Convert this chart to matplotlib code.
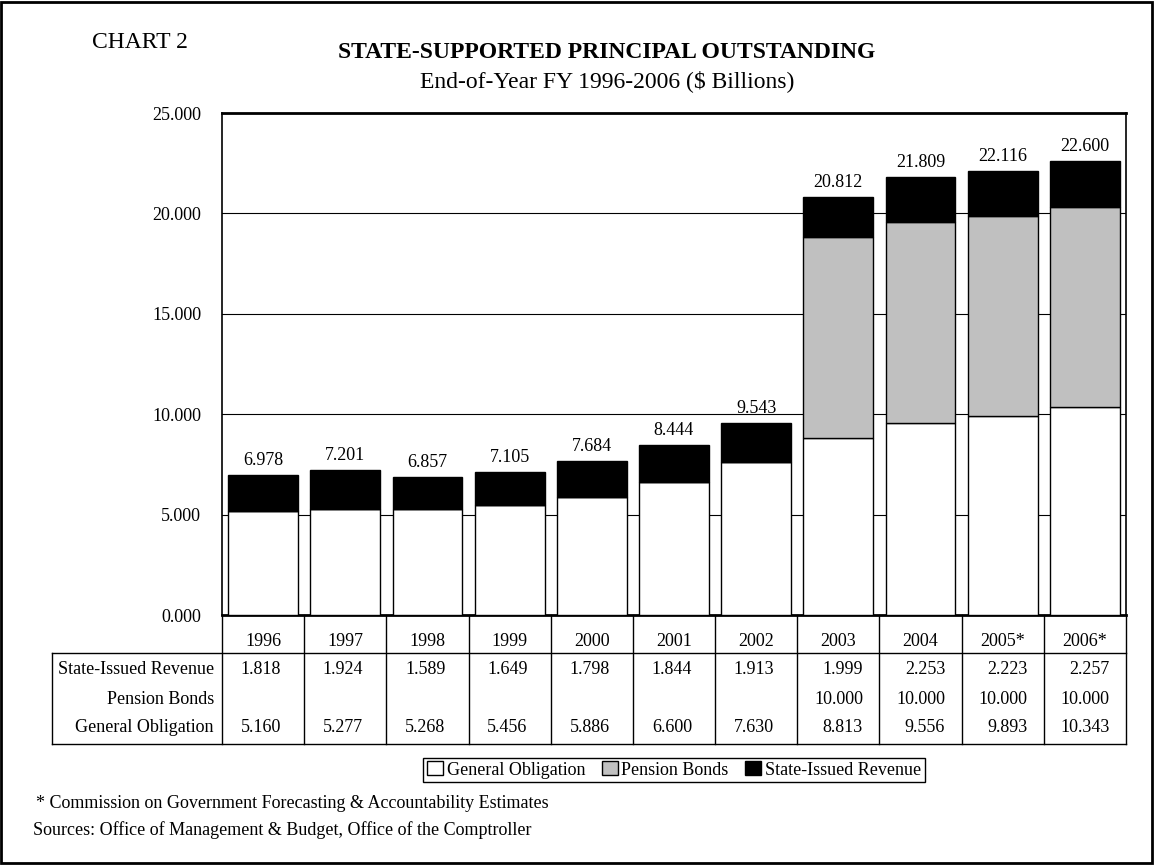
import numpy as np
import matplotlib
matplotlib.use("Agg")
from matplotlib import pyplot as plt
from matplotlib.patches import Rectangle
import matplotlib.transforms as mtransforms

plt.rcParams['font.family'] = ['Liberation Serif', 'DejaVu Serif']

# data ($ billions)
years = ['1996', '1997', '1998', '1999', '2000', '2001', '2002',
         '2003', '2004', '2005*', '2006*']
general_obligation = [5.160, 5.277, 5.268, 5.456, 5.886, 6.600, 7.630,
                      8.813, 9.556, 9.893, 10.343]
pension_bonds = [0, 0, 0, 0, 0, 0, 0, 10.000, 10.000, 10.000, 10.000]
state_issued_revenue = [1.818, 1.924, 1.589, 1.649, 1.798, 1.844, 1.913,
                        1.999, 2.253, 2.223, 2.257]
totals = [6.978, 7.201, 6.857, 7.105, 7.684, 8.444, 9.543,
          20.812, 21.809, 22.116, 22.600]

W, H = 1154, 865
FS = 13
fig = plt.figure(figsize=(W / 100, H / 100), dpi=100)

# outer frame
fig.patches.append(Rectangle((1 / W, 2 / H), 1 - 3 / W, 1 - 4 / H, transform=fig.transFigure,
                             fill=False, edgecolor='black', linewidth=2))

# plot area in pixels: x 222..1126, y 113..615
PL, PR, PT, PB = 222, 1126, 113, 615
ax = fig.add_axes([PL / W, 1 - PB / H, (PR - PL) / W, (PB - PT) / H])
x = np.arange(len(years))
go = np.array(general_obligation)
pb = np.array(pension_bonds)
sr = np.array(state_issued_revenue)

bw = 0.85
ax.bar(x, go, width=bw, color='white', edgecolor='black', linewidth=1,
       label='General Obligation', zorder=3)
ax.bar(x, pb, width=bw, bottom=go, color='#c0c0c0', edgecolor='black', linewidth=1,
       label='Pension Bonds', zorder=3)
ax.bar(x, sr, width=bw, bottom=go + pb, color='black', edgecolor='black', linewidth=1,
       label='State-Issued Revenue', zorder=3)

for xi, t in zip(x, totals):
    ax.text(xi, t + 0.3, f'{t:.3f}', ha='center', va='bottom', fontsize=FS)

ax.set_xlim(-0.5, len(years) - 0.5)
ax.set_ylim(0, 25)
ax.set_yticks(np.arange(0, 26, 5))
ax.set_yticklabels([f'{v:.3f}' for v in np.arange(0, 26, 5)], fontsize=FS)
ax.tick_params(axis='y', length=0, pad=15)
ax.set_xticks([])
for v in [5, 10, 15, 20]:
    ax.axhline(v, color='black', linewidth=0.8, zorder=1)
for s in ax.spines.values():
    s.set_linewidth(1.2)
ax.spines['top'].set_linewidth(2)
ax.spines['bottom'].set_linewidth(2)

# data table under the chart
trans = mtransforms.blended_transform_factory(ax.transData, ax.transAxes)
slot = (PR - PL) / len(years)


def yf(py):
    return -(py - PB) / (PB - PT)


tbl_top, tbl_bot = 653, 744
left_x = -0.5 - (PL - 52) / slot
for b in np.arange(len(years) + 1) - 0.5:
    ax.plot([b, b], [0, yf(tbl_bot)], color='black', lw=1, transform=trans, clip_on=False)
ax.plot([left_x, left_x], [yf(tbl_top), yf(tbl_bot)], color='black', lw=1,
        transform=trans, clip_on=False)
for py in [tbl_top, tbl_bot]:
    ax.plot([left_x, len(years) - 0.5], [yf(py), yf(py)], color='black', lw=1,
            transform=trans, clip_on=False)

for xi, yr in zip(x, years):
    ax.text(xi, yf(642), yr, ha='center', va='center', fontsize=FS, transform=trans)

rows = [('State-Issued Revenue', state_issued_revenue, 670),
        ('Pension Bonds', pension_bonds, 699),
        ('General Obligation', general_obligation, 728)]
# numbers are right aligned inside each column, like the spreadsheet table
col_max = np.maximum.reduce([np.array(r[1]) for r in rows])
for name, vals, py in rows:
    ax.text(-0.5 - 8 / slot, yf(py), name, ha='right', va='center', fontsize=FS,
            transform=trans)
    for xi, v, m in zip(x, vals, col_max):
        if v:
            off = 0.30 if m >= 10 else 0.22
            ax.text(xi + off, yf(py), f'{v:.3f}', ha='right', va='center', fontsize=FS,
                    transform=trans)

# legend
fig.legend(loc='center', bbox_to_anchor=((PL + PR) / 2 / W, 1 - 770 / H), ncol=3, fontsize=FS,
           frameon=True, fancybox=False, edgecolor='black', framealpha=1,
           handlelength=0.9, handleheight=0.8, handletextpad=0.2, columnspacing=0.9,
           borderpad=0.2)

# titles and notes
fig.text(92 / W, 1 - 42 / H, 'CHART 2', fontsize=17, ha='left', va='center')
fig.text(607 / W, 1 - 52 / H, 'STATE-SUPPORTED PRINCIPAL OUTSTANDING', fontsize=17,
         fontweight='bold', ha='center', va='center')
fig.text(607 / W, 1 - 81 / H, 'End-of-Year FY 1996-2006 ($ Billions)', fontsize=17,
         ha='center', va='center')
fig.text(36 / W, 1 - 803 / H, '* Commission on Government Forecasting & Accountability Estimates',
         fontsize=FS, ha='left', va='center')
fig.text(33 / W, 1 - 830 / H, 'Sources: Office of Management & Budget, Office of the Comptroller',
         fontsize=FS, ha='left', va='center')

fig.savefig('out.png', dpi=100)
